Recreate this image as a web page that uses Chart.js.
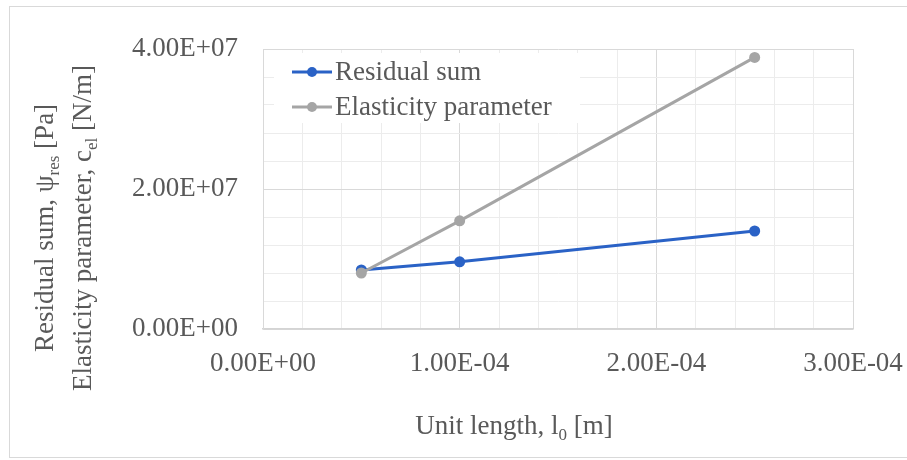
<!DOCTYPE html>
<html>
<head>
<meta charset="utf-8">
<script src="https://cdn.jsdelivr.net/npm/chart.js@4/dist/chart.umd.min.js"></script>
<style>
  html, body { margin: 0; padding: 0; background: #fff; }
  #wrap { width: 907px; height: 460px; position: relative; }
</style>
</head>
<body>
<div id="wrap"><canvas id="my_chart"></canvas></div>
<script>
(function () {
  'use strict';

  // unit length l0 [m]
  const unitLength = [5e-5, 1e-4, 2.5e-4];

  // series values
  const residualSum = [8.43e6, 9.6e6, 1.40e7];
  const elasticity = [8.0e6, 1.545e7, 3.88e7];

  const seriesLabels = ['Residual sum', 'Elasticity parameter'];

  // axis ticks
  const xTicks = { min: 0, max: 3e-4, step: 2e-5, major: 1e-4 };
  const yTicks = { min: 0, max: 4e7, step: 4e6, major: 2e7 };

  const FONT = "'Liberation Serif', 'Times New Roman', serif";
  const TEXT = '#595959';
  const BLUE = '#2a62c6';
  const GRAY = '#a5a5a5';

  // 1.00E-04 style
  function fmtE(v) {
    if (Math.abs(v) < 1e-30) return '0.00E+00';
    let exp = Math.floor(Math.log10(Math.abs(v)));
    let mant = v / Math.pow(10, exp);
    if (Math.abs(mant) >= 9.995) { mant /= 10; exp += 1; }
    const e = Math.abs(exp);
    return mant.toFixed(2) + 'E' + (exp < 0 ? '-' : '+') + (e < 10 ? '0' + e : e);
  }

  function isMajor(v, major) {
    const r = v / major;
    return Math.abs(r - Math.round(r)) < 1e-6;
  }

  // text with subscripts: [[text, isSub], ...] centred on (0,0)
  function richText(ctx, parts, size) {
    const subSize = Math.round(size * 0.62);
    let w = 0;
    parts.forEach(p => {
      ctx.font = (p[1] ? subSize : size) + 'px ' + FONT;
      w += ctx.measureText(p[0]).width;
    });
    let x = -w / 2;
    const base = size * 0.33;
    parts.forEach(p => {
      ctx.font = (p[1] ? subSize : size) + 'px ' + FONT;
      ctx.fillText(p[0], x, p[1] ? base + size * 0.22 : base);
      x += ctx.measureText(p[0]).width;
    });
  }

  const decor = {
    id: 'decor',
    beforeDraw(chart) {
      const c = chart.ctx;
      c.save();
      c.fillStyle = '#fff';
      c.fillRect(0, 0, chart.width, chart.height);
      c.strokeStyle = '#d9d9d9';
      c.lineWidth = 1;
      c.strokeRect(9.5, 6.5, chart.width, 451);
      c.restore();
    },
    afterDraw(chart) {
      const c = chart.ctx;
      const a = chart.chartArea;
      c.save();
      c.fillStyle = TEXT;
      c.textAlign = 'left';
      c.textBaseline = 'alphabetic';

      // y axis title, two lines
      [[44, [['Residual sum, \u03c8', false], ['res', true], [' [Pa]', false]]],
       [82, [['Elasticity parameter, c', false], ['el', true], [' [N/m]', false]]]]
        .forEach(line => {
          c.save();
          c.translate(line[0], 228);
          c.rotate(-Math.PI / 2);
          richText(c, line[1], 27);
          c.restore();
        });

      // x axis title
      c.save();
      c.translate(514, 425);
      richText(c, [['Unit length, l', false], ['0', true], [' [m]', false]], 27);
      c.restore();

      // legend inside the plot
      c.fillStyle = '#fff';
      c.fillRect(a.left + 11, a.top + 4, 306, 70);
      chart.data.datasets.forEach((ds, i) => {
        const y = 72 + i * 35;
        c.strokeStyle = ds.borderColor;
        c.lineWidth = 3;
        c.beginPath();
        c.moveTo(292, y);
        c.lineTo(332, y);
        c.stroke();
        c.fillStyle = ds.borderColor;
        c.beginPath();
        c.arc(312, y, 5, 0, Math.PI * 2);
        c.fill();
        c.fillStyle = TEXT;
        c.font = '27px ' + FONT;
        c.textBaseline = 'middle';
        c.fillText(ds.label, 335, y + 1);
      });
      c.restore();
    }
  };

  function toPoints(xs, ys) {
    return xs.map((x, i) => ({ x: x, y: ys[i] }));
  }

  const data = {
    datasets: [
      {
        label: seriesLabels[0],
        data: toPoints(unitLength, residualSum),
        borderColor: BLUE,
        backgroundColor: BLUE,
        borderWidth: 3,
        pointRadius: 5.5,
        pointBorderWidth: 0,
        order: 1,
      },
      {
        label: seriesLabels[1],
        data: toPoints(unitLength, elasticity),
        borderColor: GRAY,
        backgroundColor: GRAY,
        borderWidth: 3,
        pointRadius: 5.5,
        pointBorderWidth: 0,
        order: 0,
      },
    ],
  };

  const options = {
    responsive: true,
    maintainAspectRatio: false,
    animation: false,
    layout: { padding: { left: 0, top: 49, right: 54, bottom: 0 } },
    plugins: { legend: { display: false }, tooltip: { enabled: false } },
    scales: {
      x: {
        type: 'linear',
        min: xTicks.min,
        max: xTicks.max,
        afterFit: s => { s.height = 131; s.paddingLeft = 0; s.paddingRight = 0; },
        border: { color: '#d4d4d4', width: 1.5 },
        grid: {
          drawTicks: false,
          color: ctx => isMajor(ctx.tick.value, xTicks.major) ? '#d9d9d9' : '#ececec',
        },
        ticks: {
          stepSize: xTicks.step,
          maxTicksLimit: 40,
          autoSkip: false,
          maxRotation: 0,
          padding: 19,
          color: TEXT,
          font: { family: FONT, size: 27 },
          callback: v => isMajor(v, xTicks.major) ? fmtE(v) : '',
        },
      },
      y: {
        type: 'linear',
        min: yTicks.min,
        max: yTicks.max,
        afterFit: s => { s.width = 263; },
        border: { color: '#d9d9d9', width: 1 },
        grid: {
          drawTicks: false,
          color: ctx => isMajor(ctx.tick.value, yTicks.major) ? '#d9d9d9' : '#ececec',
        },
        ticks: {
          stepSize: yTicks.step,
          maxTicksLimit: 40,
          autoSkip: false,
          padding: 25,
          color: TEXT,
          font: { family: FONT, size: 27 },
          callback: v => isMajor(v, yTicks.major) ? fmtE(v) : '',
        },
      },
    },
  };

  new Chart(document.getElementById('my_chart').getContext('2d'), {
    type: 'line',
    data: data,
    options: options,
    plugins: [decor],
  });
})();
</script>
</body>
</html>
